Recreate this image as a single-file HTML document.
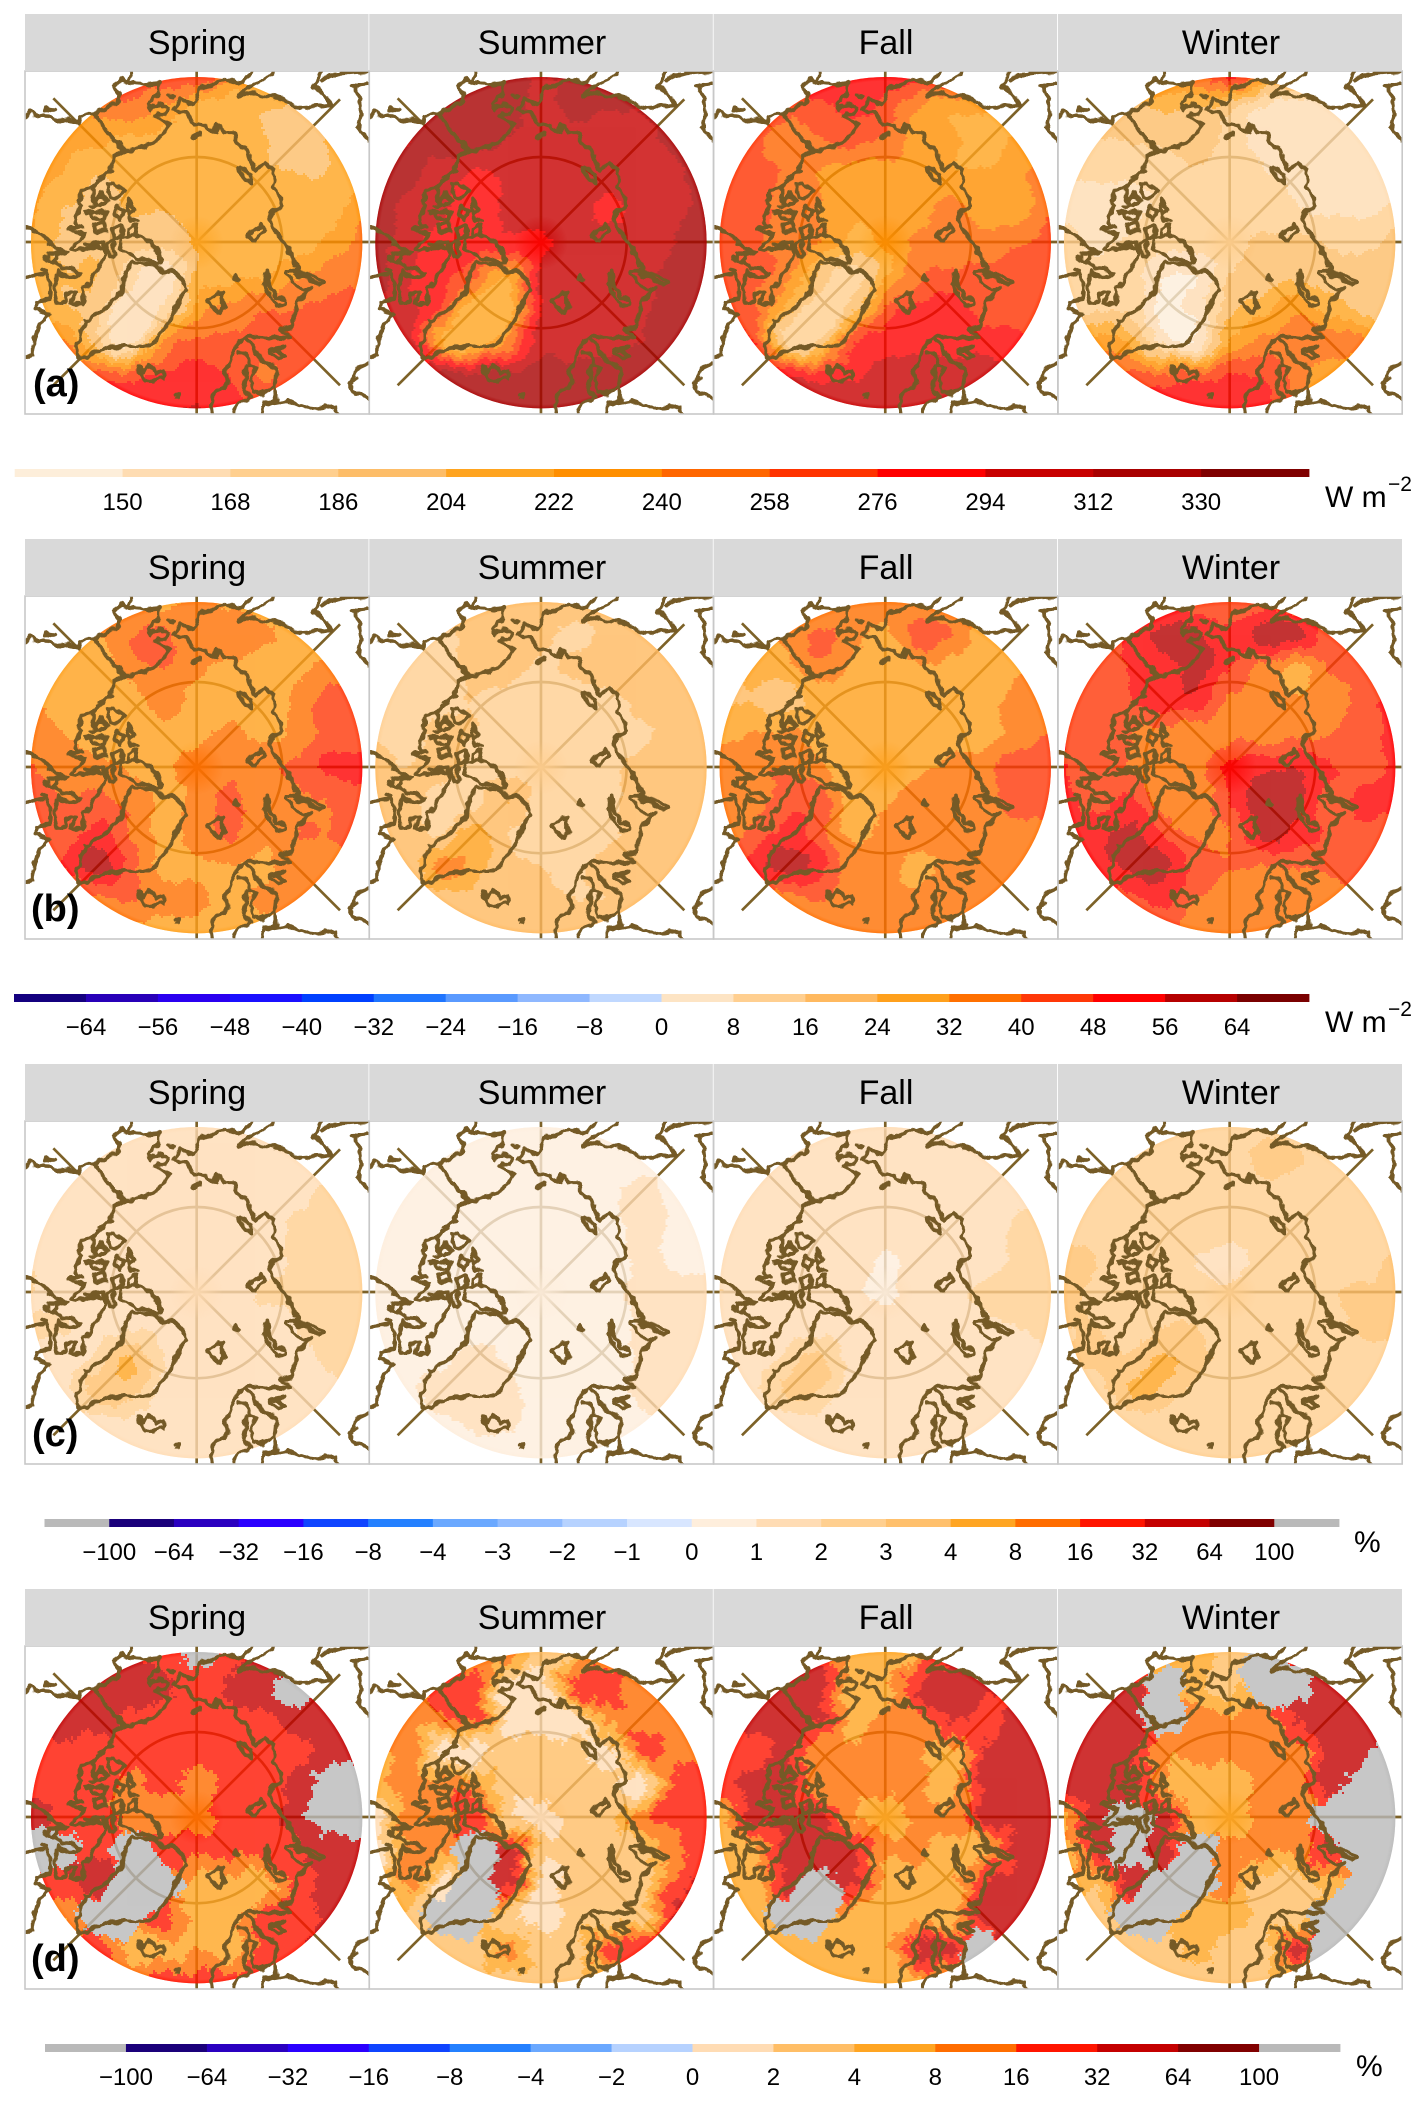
<!DOCTYPE html>
<html lang="en">
<head>
<meta charset="utf-8">
<title>Arctic seasonal maps</title>
<style>
html,body{margin:0;padding:0;background:#fff}
svg text{font-family:"Liberation Sans",sans-serif;fill:#000}
.title{font-size:34px;text-anchor:middle}
.tag{font-size:38px;font-weight:bold}
.unit{font-size:30px}
.sup{font-size:21px}
.tick{font-size:24px;text-anchor:middle}
</style>
</head>
<body>
<svg id="figure" xmlns="http://www.w3.org/2000/svg" width="1426" height="2110" viewBox="0 0 1426 2110" style="display:block">
<defs>
<clipPath id="disc"><circle cx="515" cy="515" r="497"/></clipPath>
<radialGradient id="rimGrad" gradientUnits="userSpaceOnUse" cx="515" cy="515" r="500">
<stop offset="0" stop-color="#fff"/><stop offset=".16" stop-color="#000"/><stop offset=".97" stop-color="#000"/><stop offset="1" stop-color="#fff"/>
</radialGradient>
<mask id="rim" maskUnits="userSpaceOnUse" x="0" y="0" width="1032" height="1032"><rect width="1032" height="1032" fill="url(#rimGrad)"/></mask>
<filter id="rough" filterUnits="userSpaceOnUse" x="-10" y="-10" width="1052" height="1052" color-interpolation-filters="sRGB">
<feTurbulence type="fractalNoise" baseFrequency="0.035" numOctaves="2" seed="4" result="n"/>
<feDisplacementMap in="SourceGraphic" in2="n" scale="22" xChannelSelector="R" yChannelSelector="G"/>
</filter>
<g id="graticule" fill="none" stroke="#7d6228" stroke-width="8">
<path d="M515,0V1032M0,513H1032M85,82L945,943M945,85L85,943"/>
<circle cx="515" cy="515" r="257"/>
</g>
<g id="coast" fill="none" stroke="#755a26" stroke-width="12" stroke-linejoin="round" stroke-linecap="round">
<path d="M0,140L12,122L30,135L60,130L95,150L130,145L160,152M60,115L90,118M160,152L165,135L205,128L245,108L275,95L285,72L268,45L290,25L305,35L320,0M305,35L350,40L400,35L400,70L370,100L375,115L405,97L430,110L425,130L400,130L392,135L430,160L415,190L385,215L340,230L298,242L268,255L255,300L225,320M205,130L298,242"/>
<path d="M428,72L450,75M505,193L522,191M505,197L520,196M453,970L462,972L458,982"/>
<path d="M680,0L670,20L640,35L600,25L525,55L515,90L505,100L465,85L445,120L480,125L510,155L570,180L575,160L600,185L630,185L635,210L665,235L680,275L690,295L720,275L745,295L750,320L745,345L765,380L770,405L745,420L730,445L745,470L770,505L790,545L815,575L820,600M690,295L700,290"/>
<path d="M640,290L660,330L680,335L675,310L650,290M665,495L710,462L718,478L690,510L665,495"/>
<path d="M750,0L720,25L670,45L638,75L680,62L700,72L760,80L830,110L915,103L905,75L880,55L865,50L890,0M890,30L920,10L1032,2M1032,40L980,45L1005,80L1010,130L1000,170L1032,210"/>
<path d="M0,860L25,850L25,810L45,760L72,730"/>
<path d="M165,865L155,825L180,750L235,720L260,690L290,660L295,620L320,575L380,580L415,605L445,598L470,625L485,655L460,690L445,740L420,770L385,820L365,825L300,825L250,830L200,850L165,865"/>
<path d="M345,885L355,900L365,880L380,890L392,905L415,900L418,920L395,925L385,932L365,930L350,915L345,885M545,690L575,665L595,665L590,690L600,705L580,730L560,705L545,690M628,625L636,612L640,628Z"/>
<path d="M1032,875L1000,890L985,925L975,940L985,960L1032,985"/>
<g transform="translate(0,297)">
<path d="M262,0L240,12L232,28L215,35L205,50L185,55L170,62L165,85L155,95L170,110L155,135L150,155L170,170L135,175L150,185L175,190L160,215L135,235L175,240L215,225L240,235L240,260L225,285L205,320L195,345L175,350L172,400L140,400L150,370L130,368L125,395L95,400L88,350L100,305L125,322L165,310L150,298L110,295L85,270L125,245L105,240L70,215L45,190L0,175"/>
<path d="M247,45L268,35L297,65L272,90L255,85L247,45M205,60L205,95L230,70L245,95L225,110L205,95M195,130L245,125L240,145L205,145L195,130M205,165L240,155L245,185L210,185L205,165M280,110L300,120L285,150L270,135L280,110M310,90L328,120L312,130L305,100L310,90M315,140L335,150L320,155L315,140M265,175L290,165L290,195L265,205L265,175M310,180L335,165L330,195L305,205L310,180M200,110L230,100M180,130L200,125"/>
<path d="M290,205L330,195L375,215L405,250L405,285L370,270L335,265L290,240L285,220L290,205M250,215L265,210L270,255L255,262L248,240L250,215M180,225L235,215L245,235"/>
<path d="M70,250L105,250L90,280L70,275L70,250M58,262L64,272M52,296L60,300"/>
<path d="M0,325L30,315L60,310L75,340L70,390L35,395L30,415L70,430"/>
</g>
<g transform="translate(510,507)">
<path d="M265,5L285,30L300,75L315,85L280,95L275,105L325,150L350,140L320,175L305,185L300,215L293,240L295,260L255,270L285,290L270,295M285,95L310,95L350,105L385,125L375,135L340,115L300,105"/>
<path d="M215,90L222,130L245,175L270,180L270,195L245,200L225,170L210,130L215,90"/>
<path d="M285,295L210,292L180,290L150,295L130,310L110,340L100,370L90,400L100,430L50,465L45,490L50,525"/>
<path d="M270,320L220,330L250,355L270,350L250,330L270,320M155,300L175,320L185,345L225,375L245,395L240,440L205,460L175,455L165,420L180,380L155,380L150,430L145,455L170,470L130,490L115,525M130,340L155,340L165,375M205,460L240,440L245,478L210,483L200,525M210,493L280,483L340,508L420,498L430,525"/>
</g>
</g>
</defs>

<g id="maps"></g>
<g id="bars"></g>

<g transform="translate(0,14)">
<rect x="25" width="343.5" height="57" fill="#d9d9d9"/><rect x="369.3" width="343.5" height="57" fill="#d9d9d9"/><rect x="713.6" width="343.5" height="57" fill="#d9d9d9"/><rect x="1058" width="344" height="57" fill="#d9d9d9"/>
<text class="title" x="197" y="40">Spring</text><text class="title" x="542" y="40">Summer</text><text class="title" x="886" y="40">Fall</text><text class="title" x="1231" y="40">Winter</text>
<text class="tag" x="33" y="382">(a)</text>
</g>
<g transform="translate(0,539)">
<rect x="25" width="343.5" height="57" fill="#d9d9d9"/><rect x="369.3" width="343.5" height="57" fill="#d9d9d9"/><rect x="713.6" width="343.5" height="57" fill="#d9d9d9"/><rect x="1058" width="344" height="57" fill="#d9d9d9"/>
<text class="title" x="197" y="40">Spring</text><text class="title" x="542" y="40">Summer</text><text class="title" x="886" y="40">Fall</text><text class="title" x="1231" y="40">Winter</text>
<text class="tag" x="31" y="382">(b)</text>
</g>
<g transform="translate(0,1064)">
<rect x="25" width="343.5" height="57" fill="#d9d9d9"/><rect x="369.3" width="343.5" height="57" fill="#d9d9d9"/><rect x="713.6" width="343.5" height="57" fill="#d9d9d9"/><rect x="1058" width="344" height="57" fill="#d9d9d9"/>
<text class="title" x="197" y="40">Spring</text><text class="title" x="542" y="40">Summer</text><text class="title" x="886" y="40">Fall</text><text class="title" x="1231" y="40">Winter</text>
<text class="tag" x="32" y="382">(c)</text>
</g>
<g transform="translate(0,1589)">
<rect x="25" width="343.5" height="57" fill="#d9d9d9"/><rect x="369.3" width="343.5" height="57" fill="#d9d9d9"/><rect x="713.6" width="343.5" height="57" fill="#d9d9d9"/><rect x="1058" width="344" height="57" fill="#d9d9d9"/>
<text class="title" x="197" y="40">Spring</text><text class="title" x="542" y="40">Summer</text><text class="title" x="886" y="40">Fall</text><text class="title" x="1231" y="40">Winter</text>
<text class="tag" x="31" y="382">(d)</text>
</g>

<text class="unit" x="1325" y="507">W m</text><text class="sup" x="1388" y="491">−2</text>
<text class="unit" x="1325" y="1032">W m</text><text class="sup" x="1388" y="1016">−2</text>
<text class="unit" x="1354" y="1552">%</text>
<text class="unit" x="1356" y="2076">%</text>
</svg>

<script>
const edgesA = [132,150,168,186,204,222,240,258,276,294,312,330,348];
const edgesB = [-72,-64,-56,-48,-40,-32,-24,-16,-8,0,8,16,24,32,40,48,56,64,72];
const edgesC = [-200,-100,-64,-32,-16,-8,-4,-3,-2,-1,0,1,2,3,4,8,16,32,64,100,200];
const edgesD = [-200,-100,-64,-32,-16,-8,-4,-2,0,2,4,8,16,32,64,100,200];
const colorsA = ['#fdeeda','#fedcb2','#ffcf8e','#fdbd68','#ffa41f','#ff8f00','#ff6600','#ff3300','#ff0000','#c80000','#a80000','#7f0000'];
const colorsB = ['#14007f','#2800b8','#2a00f0','#1a10ff','#0040ff','#1f75ff','#5a9aff','#8fb8ff','#c0d8ff','#fde4c4','#ffcf90','#ffb95f','#ffa01c','#ff7000','#ff3808','#ff0000','#b50000','#7a0000'];
const colorsC = ['#b9b9b9','#1a007a','#2a00c0','#2a00ff','#0f44ff','#2480ff','#6aa8ff','#90bbff','#b6d2ff','#d8e6ff','#feeedc','#ffdcb4','#ffcf8f','#ffc06c','#ffa522','#ff6d00','#ff1500','#c40000','#800000','#b9b9b9'];
const colorsD = ['#b9b9b9','#1a007a','#2a00c0','#2a00ff','#0f44ff','#2480ff','#6aa8ff','#b6d2ff','#ffdcb4','#ffbe66','#ffa522','#ff6d00','#ff1500','#c40000','#800000','#b9b9b9'];
const ticksA = [150,168,186,204,222,240,258,276,294,312,330];
const ticksB = [-64,-56,-48,-40,-32,-24,-16,-8,0,8,16,24,32,40,48,56,64];
const ticksC = [-100,-64,-32,-16,-8,-4,-3,-2,-1,0,1,2,3,4,8,16,32,64,100];
const ticksD = [-100,-64,-32,-16,-8,-4,-2,0,2,4,8,16,32,64,100];

const aSpring = [
268,268,268,268,265,270,240,225,225,225,225,
225,225,245,250,235,215,205,205,200,205,205,
225,225,225,215,215,210,205,205,190,205,225,
225,220,205,207,207,207,207,207,205,205,220,
225,205,200,205,205,210,212,212,212,212,235,
220,200,200,195,190,205,210,215,215,225,248,
215,205,205,175,150,207,217,222,235,250,255,
220,205,195,150,170,230,245,255,258,262,262,
245,245,190,155,240,262,262,265,265,265,265,
262,262,262,268,278,285,275,255,265,265,265,
285,285,285,290,290,295,285,280,270,270,270];
const aSummer = [
312,312,312,312,312,312,312,312,312,312,312,
315,315,315,318,318,308,315,312,312,322,322,
310,312,316,318,310,304,303,303,305,316,322,
316,314,305,290,298,303,303,300,300,308,318,
318,308,295,285,296,298,303,290,300,308,316,
322,300,290,285,288,292,298,300,302,312,325,
320,295,285,260,225,298,300,302,305,318,325,
315,300,270,205,215,296,302,305,310,318,325,
312,308,220,205,245,305,306,308,312,320,325,
318,318,318,318,318,318,316,318,320,320,320,
320,320,320,320,320,320,320,320,320,320,320];
const aFall = [
285,285,285,285,285,283,280,270,270,270,270,
270,270,262,270,280,270,235,225,225,225,230,
265,262,250,255,262,250,235,225,215,225,240,
262,265,255,240,225,232,235,225,225,235,250,
262,265,250,240,225,228,228,250,228,230,255,
268,262,250,240,215,225,245,250,250,255,268,
270,262,250,200,175,215,255,262,262,268,270,
262,260,215,175,195,262,280,285,270,270,270,
285,280,180,185,270,285,288,285,285,280,270,
300,300,290,285,290,300,305,305,305,295,285,
305,305,305,305,305,305,305,300,295,290,285];
const aWinter = [
240,240,240,240,250,280,230,200,190,180,180,
195,195,195,205,200,190,160,155,150,150,160,
180,185,185,190,195,180,162,160,150,150,165,
170,170,170,172,180,180,170,165,160,160,165,
165,160,165,170,170,170,175,170,165,165,170,
175,165,170,175,172,180,190,190,185,180,195,
180,175,180,150,150,185,195,200,195,195,195,
185,180,185,145,160,200,215,235,215,200,200,
235,235,215,160,150,225,245,250,255,240,210,
255,255,262,262,265,275,275,250,225,215,205,
285,285,285,285,285,285,285,260,230,220,210];

const bSpring = [
28,28,28,28,30,34,30,28,28,28,28,
28,30,32,40,42,34,40,34,30,28,28,
26,28,26,36,40,34,30,28,30,34,34,
32,28,30,28,36,28,30,28,34,44,44,
36,32,28,28,30,30,34,30,34,44,44,
40,36,36,30,30,36,38,38,42,50,50,
44,40,42,38,30,34,42,34,38,40,44,
40,42,52,40,30,36,42,34,40,40,42,
36,48,60,44,30,30,32,30,36,38,36,
30,30,38,40,36,34,30,34,34,32,30,
28,28,28,28,28,28,28,28,28,28,28];
const bSummer = [
20,20,20,20,20,20,20,20,20,20,20,
20,16,14,20,20,18,14,18,18,18,20,
14,14,14,18,20,14,18,20,20,18,20,
14,16,14,16,12,12,12,12,20,20,20,
16,14,18,16,12,12,12,12,14,20,20,
18,16,18,14,14,12,12,12,20,20,24,
20,18,14,14,24,12,12,14,20,20,20,
18,18,16,28,16,14,12,14,20,20,20,
20,18,36,28,18,16,14,20,20,20,20,
20,20,20,20,18,18,16,16,20,20,20,
16,16,16,16,16,16,16,16,16,16,16];
const bFall = [
30,30,30,30,32,36,34,30,28,28,28,
24,28,34,42,36,30,44,40,28,24,28,
20,26,28,38,30,24,30,28,26,30,36,
22,24,20,26,24,24,24,24,28,36,40,
30,32,34,28,24,24,24,24,28,36,40,
36,38,40,34,24,28,30,36,38,44,44,
40,36,44,46,26,30,36,34,36,44,44,
38,42,52,44,30,36,36,32,36,36,38,
36,50,60,52,36,34,30,34,34,36,38,
32,32,36,40,34,34,34,34,36,34,34,
34,34,34,34,34,34,34,34,34,34,34];
const bWinter = [
40,40,40,44,44,40,44,40,36,36,36,
44,44,50,60,58,50,60,60,44,36,34,
38,44,48,50,60,48,38,30,40,42,44,
46,44,48,52,52,38,38,34,34,44,50,
48,46,40,36,34,38,36,38,40,44,50,
48,44,40,36,36,50,54,56,50,44,50,
50,44,50,36,34,48,60,58,44,50,50,
50,54,58,48,38,40,58,54,46,46,44,
46,52,58,58,46,40,40,40,42,44,44,
40,40,46,50,40,36,36,34,36,38,38,
38,38,38,38,38,38,38,38,38,38,38];

const cSpring = [
1.5,1.5,1.5,1.5,1.5,1.5,1.5,1.5,1.5,1.5,1.5,
1.5,1.5,1.5,1.5,1.5,1.5,1.5,1.5,1.5,1.5,2,
1.4,1.4,1.5,1.5,1.4,1.4,1.5,1.6,1.7,2.2,2.4,
1.5,1.5,1.5,1.4,1.4,1.4,1.4,1.5,2.2,2.4,2.5,
2,1.5,1.5,1.4,1.4,1.4,1.5,1.5,2.2,2.5,2.5,
2,1.5,1.5,1.5,1.5,1.5,1.7,2.1,2.2,2.4,2.4,
2,2.1,1.5,1.8,1.6,1.5,1.5,1.5,2,2.3,2.4,
2,1.6,2.4,4.5,2,1.5,1.5,1.5,1.8,2.1,2.2,
1.8,1.6,3.6,3.5,1.6,1.4,1.4,1.4,1.5,1.8,2,
1.5,1.5,1.5,1.5,1.5,1.5,1.5,1.5,1.5,1.5,1.5,
1.5,1.5,1.5,1.5,1.5,1.5,1.5,1.5,1.5,1.5,1.5];
const cSummer = [
.7,.7,.7,.7,.7,.7,.7,.7,.7,.7,.7,
.7,.7,.7,.7,.7,.7,.7,.7,.7,.7,.7,
.7,.7,.7,.7,.7,.7,.7,.8,1.3,.8,.7,
.7,.7,.7,.7,.7,.7,.7,.7,1.3,.9,.7,
.7,.7,.7,.7,.7,.7,.7,.7,1.1,.9,.8,
.7,.7,.7,.7,.7,.7,.7,.7,1.2,1.3,1.2,
.7,.7,.7,.7,.9,.7,.7,.7,1.1,1.3,1.2,
.7,.7,.8,1.3,.9,.7,.7,.7,1.1,1.3,1.2,
.7,.8,1.5,1.5,1.2,.7,.7,.7,1.1,1.2,1,
.7,.7,.8,1.1,1.1,.7,.8,.8,.9,.9,.8,
.7,.7,.7,.7,.7,.7,.7,.7,.7,.7,.7];
const cFall = [
1.5,1.5,1.5,1.5,1.5,1.5,1.5,1.5,1.5,1.5,1.5,
1.5,1.5,1.3,1.5,1.5,1.5,1.5,1.5,1.5,1.5,1.5,
1.5,1.5,1.5,1.5,1.4,1.3,1.5,1.5,1.6,1.8,2,
1.5,1.3,1.3,1.3,1.4,1.4,1.4,1.4,1.5,2.1,2.2,
1.5,1.3,1.5,1.4,1.4,.9,1.4,1.4,1.6,2.2,2.2,
2,1.5,1.5,1.4,1.2,.8,1.5,1.7,2.2,2.2,2.2,
1.6,1.5,1.5,1.6,1.6,1.4,1.5,1.5,1.8,2,2.1,
1.5,1.5,2.3,3.3,1.6,1.4,1.4,1.4,1.6,1.8,2,
1.5,1.6,3.2,3,1.5,1.4,1.4,1.4,1.5,1.6,1.8,
1.4,1.4,1.4,1.4,1.4,1.4,1.4,1.4,1.4,1.4,1.4,
1.4,1.4,1.4,1.4,1.4,1.4,1.4,1.4,1.4,1.4,1.4];
const cWinter = [
2.2,2.2,2.2,2.2,2.2,2.2,2.6,2.6,2.4,2.2,2.2,
2.2,2.2,2.2,2.8,2.6,2.2,3.5,3.2,2.4,2.2,2.2,
2.2,2.2,2.4,2.8,2.4,2.2,2.4,2.4,2.2,2.2,2.4,
2.4,2.2,2.3,2.2,2.4,2.3,2.3,2.3,2.2,2.2,2.5,
3.6,3,2.2,2.1,2,1.8,2.2,2.2,2.2,2.3,3.2,
3.6,2.6,2.4,2.1,2.2,2.1,2.4,2.8,2.9,3.2,3.1,
3,3,2.4,3,3,2.2,2.2,2.2,2.6,3.1,3.2,
2.8,3.3,3.2,4.5,3.5,2.2,2.2,2.2,2.4,2.8,2.8,
2.4,2.4,4.5,3.8,2.6,2.1,2.1,2.1,2.1,2.6,2.6,
2.2,2.2,2.2,2.2,2.2,2.2,2.2,2.2,2.2,2.2,2.2,
2.2,2.2,2.2,2.2,2.2,2.2,2.2,2.2,2.2,2.2,2.2];

const dSpring = [
40,40,40,40,20,150,20,40,40,40,40,
40,40,45,45,45,24,40,50,150,40,40,
30,40,45,30,24,24,24,30,45,40,40,
30,30,24,24,24,24,24,24,24,50,50,
30,30,30,12,24,12,24,24,40,150,150,
40,30,30,10,10,12,24,24,40,150,150,
150,150,30,150,30,20,20,24,30,40,40,
30,30,40,150,150,6,6,6,24,40,40,
6,8,150,150,24,6,6,20,24,40,40,
24,24,24,6,6,8,6,24,30,40,40,
24,24,24,24,24,24,24,24,24,24,24];
const dSummer = [
3,3,3,12,12,3,3,12,12,12,12,
12,12,24,24,1,1,24,24,12,12,12,
12,12,12,24,1,1,1,12,12,12,12,
6,12,1,1,3,3,3,1,24,12,12,
6,12,12,12,3,3,3,3,1,24,24,
1,12,12,24,3,1,3,3,12,24,24,
1,12,12,150,60,3,3,3,3,12,24,
1,12,1,150,50,1,3,3,3,20,40,
3,3,150,150,3,1,3,3,3,40,40,
3,3,3,3,12,3,3,24,24,50,40,
3,3,3,3,3,3,3,3,3,3,3];
const dFall = [
40,40,40,40,6,6,6,40,40,40,40,
40,40,40,40,6,6,40,40,40,40,40,
40,40,40,40,6,10,12,40,24,40,40,
24,24,40,10,10,10,10,6,40,40,40,
24,40,40,10,10,10,10,6,40,40,40,
6,40,40,40,10,6,10,10,40,40,40,
6,6,40,40,40,10,10,6,6,40,40,
6,6,40,150,40,6,6,6,40,40,40,
6,4,150,150,6,6,6,6,40,40,150,
6,6,6,6,6,6,40,40,150,40,40,
6,6,6,6,6,6,6,6,6,6,6];
const dWinter = [
6,6,6,6,6,3,150,40,40,40,40,
50,50,40,150,6,3,150,150,40,40,40,
40,50,50,150,10,10,10,40,50,50,150,
40,40,40,10,10,10,10,10,50,50,150,
40,50,40,10,6,6,10,10,50,150,150,
8,50,150,40,6,6,10,10,150,150,150,
6,40,150,40,150,10,10,10,40,150,150,
5,6,50,150,150,10,3,3,6,150,150,
3,3,150,150,6,6,3,3,150,150,150,
3,3,3,3,6,3,3,50,150,150,150,
3,3,3,3,3,3,3,3,3,3,3];

const rowSpecs = [
  {id:'a',top:14,grids:[aSpring,aSummer,aFall,aWinter],edges:edgesA,colors:colorsA,ticks:ticksA,barX0:14.7,barX1:1309,overflow:null,wob:0.07},
  {id:'b',top:539,grids:[bSpring,bSummer,bFall,bWinter],edges:edgesB,colors:colorsB,ticks:ticksB,barX0:14,barX1:1309,overflow:null,wob:0.07},
  {id:'c',top:1064,grids:[cSpring,cSummer,cFall,cWinter],edges:edgesC,colors:colorsC,ticks:ticksC,barX0:44.5,barX1:1339,overflow:null,wob:0.07},
  {id:'d',top:1589,grids:[dSpring,dSummer,dFall,dWinter],edges:edgesD,colors:colorsD,ticks:ticksD,barX0:45,barX1:1340,overflow:100,wob:0.12}
];
const panelLeft = [25,369.3,713.6,1058];

const NS = 'http://www.w3.org/2000/svg';
function mk(tag, attrs, parent){
  const el = document.createElementNS(NS, tag);
  for(const k in attrs) el.setAttribute(k, attrs[k]);
  if(parent) parent.appendChild(el);
  return el;
}
function toPos(v, edges){
  if(v <= edges[0]) return 0;
  for(let i=0;i<edges.length-1;i++){
    if(v <= edges[i+1]) return i + (v-edges[i])/(edges[i+1]-edges[i]);
  }
  return edges.length-1.001;
}
function cubic(p0,p1,p2,p3,t){
  return .5*((2*p1)+(-p0+p2)*t+(2*p0-5*p1+4*p2-p3)*t*t+(-p0+3*p1-3*p2+p3)*t*t*t);
}
function sampler(P){
  const N = 11;
  const at = (i,j)=>P[Math.max(0,Math.min(N-1,j))*N+Math.max(0,Math.min(N-1,i))];
  return function(u,v){
    u=Math.max(0,Math.min(N-1.0001,u)); v=Math.max(0,Math.min(N-1.0001,v));
    const i=Math.floor(u), j=Math.floor(v), fx=u-i, fy=v-j, col=[];
    for(let k=-1;k<=2;k++) col.push(cubic(at(i-1,j+k),at(i,j+k),at(i+1,j+k),at(i+2,j+k),fx));
    const r=cubic(col[0],col[1],col[2],col[3],fy);
    const lo=Math.min(at(i,j),at(i+1,j),at(i,j+1),at(i+1,j+1));
    const hi=Math.max(at(i,j),at(i+1,j),at(i,j+1),at(i+1,j+1));
    return Math.max(lo,Math.min(hi,r));
  };
}
function bandPaths(values, row){
  const edges=row.edges, count=row.colors.length, N=11;
  const isOver = v => row.overflow!==null && v>row.overflow;
  const filled = values.map(function(v,k){
    if(!isOver(v)) return toPos(v,edges);
    const i=k%N, j=Math.floor(k/N); let s=0,c=0;
    for(let dj=-1;dj<=1;dj++) for(let di=-1;di<=1;di++){
      const a=i+di,b=j+dj;
      if(a<0||b<0||a>=N||b>=N) continue;
      const w=values[b*N+a];
      if(!isOver(w)){s+=toPos(w,edges);c++;}
    }
    return c? s/c : toPos(row.overflow*.4,edges);
  });
  const mask = values.map(v=>isOver(v)?1:0);
  const f = sampler(filled), g = sampler(mask), cell = 6, segs = {};
  for(let y=0;y<1032;y+=cell){
    let runStart=null, runBand=null;
    for(let x=0;x<=1032;x+=cell){
      const d=Math.hypot(x+3-515,y+3-515);
      let b=null;
      if(d<=510 && x<1032){
        const u=(x+3-18)/99.4+row.wob*(Math.sin(y*.047+x*.019)+.6*Math.sin(y*.137-x*.051)+.4*Math.sin(y*.31+x*.23));
        const v=(y+3-18)/99.4+row.wob*(Math.sin(x*.043-y*.023)+.6*Math.sin(x*.129+y*.061)+.4*Math.sin(x*.29-y*.21));
        if(row.overflow!==null && g(u,v)>.42) b=count-1;
        else b=Math.max(0,Math.min(count-1,Math.floor(f(u,v))));
      }
      if(b!==runBand){
        if(runBand!==null){
          const w=x-runStart;
          segs[runBand]=(segs[runBand]||'')+'M'+runStart+','+y+'h'+w+'v'+cell+'h-'+w+'z';
        }
        runBand=b; runStart=x;
      }
    }
  }
  return segs;
}

const maps = document.getElementById('maps');
const bars = document.getElementById('bars');
rowSpecs.forEach(function(row){
  row.grids.forEach(function(values, p){
    const svg = mk('svg',{x:panelLeft[p],y:row.top+57,width:344.2,height:343,viewBox:'0 0 1032.6 1029'},maps);
    
    
    const grat = mk('use',{href:'#graticule'},svg);
    
    
    const fieldId = 'field-'+row.id+'-'+p;
    const field = mk('g',{id:fieldId,'clip-path':'url(#disc)',opacity:.8,'shape-rendering':'crispEdges'},svg);
    
    
    const segs = bandPaths(values,row);
    Object.keys(segs).forEach(function(b){
      const path = mk('path',{d:segs[b],fill:row.colors[b]},field);
      
      
    });
    const rim = mk('use',{href:'#'+fieldId,mask:'url(#rim)'},svg);
    
    
    const coast = mk('use',{href:'#coast',filter:'url(#rough)'},svg);
    
    
    const frame = mk('rect',{x:panelLeft[p],y:row.top+57,width:344.2,height:343,fill:'none',stroke:'#c8c8c8','stroke-width':1.6},maps);
    
    
  });
  const n = row.colors.length, w = (row.barX1-row.barX0)/n;
  row.colors.forEach(function(c,i){
    const seg = mk('rect',{x:row.barX0+i*w,y:row.top+455,width:w+.4,height:8,fill:c},bars);
    
    
  });
  row.ticks.forEach(function(t){
    const idx = row.edges.indexOf(t);
    const label = mk('text',{x:row.barX0+idx*w,y:row.top+496,'class':'tick'},bars);
    label.textContent = String(t).replace('-','\u2212');
    
    
  });
});
</script>
</body>
</html>
